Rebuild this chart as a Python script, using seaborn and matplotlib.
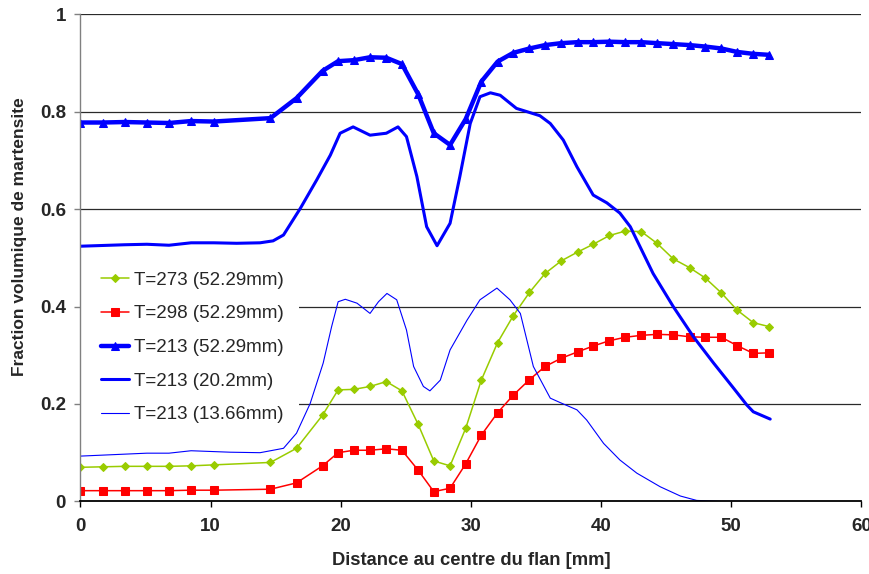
import matplotlib
matplotlib.use("Agg")
import matplotlib.pyplot as plt
from matplotlib.patches import Rectangle
import seaborn as sns

sns.set_theme(style="white")
plt.rcParams["font.family"] = ["Liberation Sans", "DejaVu Sans"]

# positions of the marked points (mm)
x_pts = [0, 1.7, 3.4, 5.1, 6.8, 8.5, 10.25, 14.6, 16.6, 18.6, 19.8, 21.0, 22.25,
         23.5, 24.7, 25.95, 27.15, 28.4, 29.6, 30.8, 32.05, 33.25, 34.5, 35.7,
         36.95, 38.2, 39.4, 40.65, 41.85, 43.1, 44.3, 45.55, 46.8, 48.0, 49.25,
         50.45, 51.7, 52.9]

t273 = [0.070, 0.071, 0.072, 0.072, 0.072, 0.073, 0.075, 0.080, 0.109, 0.177,
        0.229, 0.230, 0.236, 0.246, 0.227, 0.158, 0.083, 0.073, 0.150, 0.249,
        0.326, 0.381, 0.429, 0.468, 0.494, 0.512, 0.528, 0.546, 0.555, 0.554,
        0.530, 0.498, 0.480, 0.459, 0.428, 0.393, 0.367, 0.359]

t298 = [0.022, 0.022, 0.022, 0.022, 0.022, 0.023, 0.023, 0.025, 0.038, 0.073,
        0.100, 0.105, 0.105, 0.108, 0.105, 0.064, 0.020, 0.027, 0.077, 0.136,
        0.182, 0.218, 0.250, 0.277, 0.294, 0.307, 0.319, 0.330, 0.337, 0.341,
        0.343, 0.342, 0.338, 0.337, 0.337, 0.320, 0.304, 0.305]

t213_5229 = [0.778, 0.778, 0.779, 0.778, 0.777, 0.781, 0.780, 0.787, 0.828, 0.884,
             0.904, 0.906, 0.912, 0.911, 0.898, 0.836, 0.756, 0.732, 0.785, 0.862,
             0.903, 0.921, 0.930, 0.937, 0.941, 0.943, 0.943, 0.944, 0.943, 0.943,
             0.941, 0.939, 0.937, 0.934, 0.930, 0.923, 0.919, 0.917]

# unmarked curves
x_202 = [0, 3.4, 5.1, 6.8, 8.5, 10.25, 12.0, 13.8, 14.8, 15.6, 16.9, 18.15, 19.2,
         19.95, 20.95, 22.25, 23.5, 24.4, 25.05, 25.85, 26.6, 27.4, 28.4, 29.15,
         29.95, 30.7, 31.5, 32.25, 33.5, 35.3, 36.1, 37.1, 38.15, 39.4, 40.45,
         41.45, 42.25, 44.0, 45.55, 47.1, 48.65, 50.2, 51.2, 51.7, 53.0]
t213_202 = [0.524, 0.527, 0.528, 0.526, 0.531, 0.531, 0.530, 0.531, 0.535, 0.547,
            0.602, 0.660, 0.711, 0.756, 0.769, 0.752, 0.756, 0.769, 0.749, 0.667,
            0.564, 0.525, 0.571, 0.667, 0.776, 0.831, 0.839, 0.834, 0.807, 0.792,
            0.776, 0.742, 0.687, 0.629, 0.613, 0.592, 0.564, 0.468, 0.400, 0.338,
            0.284, 0.232, 0.198, 0.184, 0.169]

x_1366 = [0, 5.1, 6.8, 8.5, 11.5, 13.8, 15.6, 16.6, 17.65, 18.65, 19.3, 19.8,
          20.35, 21.25, 22.25, 22.9, 23.55, 24.3, 25.05, 25.6, 26.35, 26.85, 27.65,
          28.4, 29.7, 30.7, 32.0, 33.0, 33.8, 34.8, 35.3, 36.1, 36.85, 38.15, 38.9,
          40.2, 41.45, 42.75, 44.55, 46.1, 47.35, 49.15, 53.0]
t213_1366 = [0.093, 0.099, 0.099, 0.104, 0.101, 0.100, 0.109, 0.140, 0.201, 0.284,
             0.359, 0.410, 0.415, 0.407, 0.386, 0.410, 0.427, 0.414, 0.352, 0.277,
             0.236, 0.227, 0.249, 0.311, 0.372, 0.414, 0.438, 0.414, 0.386, 0.277,
             0.252, 0.212, 0.203, 0.188, 0.167, 0.119, 0.085, 0.058, 0.030, 0.011,
             0.002, 0.0, 0.0]

fig = plt.figure(figsize=(8.7, 5.74), dpi=100)
ax = fig.add_axes([0.0925, 0.1265, 0.8975, 0.8484])

sns.lineplot(x=x_pts, y=t273, color="#99CC00", marker="D", markersize=4.3,
             markeredgecolor="#99CC00", linewidth=1.1, label="T=273 (52.29mm)", ax=ax)
sns.lineplot(x=x_pts, y=t298, color="#FF0000", marker="s", markersize=5.6,
             markeredgecolor="#FF0000", linewidth=1.1, label="T=298 (52.29mm)", ax=ax)
sns.lineplot(x=x_pts, y=t213_5229, color="#0000FF", marker="^", markersize=6.3,
             markeredgecolor="#0000FF", linewidth=3.2, label="T=213 (52.29mm)", ax=ax)
sns.lineplot(x=x_202, y=t213_202, color="#0000FF", linewidth=2.2,
             label="T=213 (20.2mm)", ax=ax)
sns.lineplot(x=x_1366, y=t213_1366, color="#0000FF", linewidth=0.8,
             label="T=213 (13.66mm)", ax=ax)

ax.set_xlim(0, 60)
ax.set_ylim(0, 1)
ax.set_xticks(range(0, 61, 10))
ax.set_yticks([0, 0.2, 0.4, 0.6, 0.8, 1.0])
ax.set_yticklabels(["0", "0.2", "0.4", "0.6", "0.8", "1"])

for yv in [0.2, 0.4, 0.6, 0.8, 1.0]:
    ax.axhline(yv, color="#2a2a2a", linewidth=0.9, zorder=0)

# white legend area hiding the gridlines behind the legend
ax.add_patch(Rectangle((0, 0.157), 0.28, 0.35, transform=ax.transAxes,
                       facecolor="white", edgecolor="none", zorder=0.5))

for s in ["top", "right"]:
    ax.spines[s].set_visible(False)
ax.spines["left"].set_color("#808080")
ax.spines["left"].set_linewidth(1.0)
ax.spines["bottom"].set_color("black")
ax.spines["bottom"].set_linewidth(1.3)

ax.tick_params(axis="y", direction="out", length=4.5, color="#808080", width=1,
               left=True, pad=6, labelsize=13.5)
ax.tick_params(axis="x", direction="out", length=4.5, color="black", width=1,
               bottom=True, pad=7.5, labelsize=13.5)
for lab in ax.get_xticklabels() + ax.get_yticklabels():
    lab.set_fontweight("bold")

ax.set_xlabel("Distance au centre du flan [mm]", fontsize=13.2, fontweight="bold")
ax.set_ylabel("Fraction volumique de martensite", fontsize=12.5, fontweight="bold")
ax.xaxis.set_label_coords(0.5, -0.103)
ax.yaxis.set_label_coords(-0.068, 0.543)

ax.legend(loc="center left", bbox_to_anchor=(0.0, 0.316), borderaxespad=0,
          fontsize=13.5, frameon=False, handlelength=1.5,
          handletextpad=0.25, labelspacing=0.88, borderpad=1.1, numpoints=1)

fig.savefig("out.png", dpi=100)
